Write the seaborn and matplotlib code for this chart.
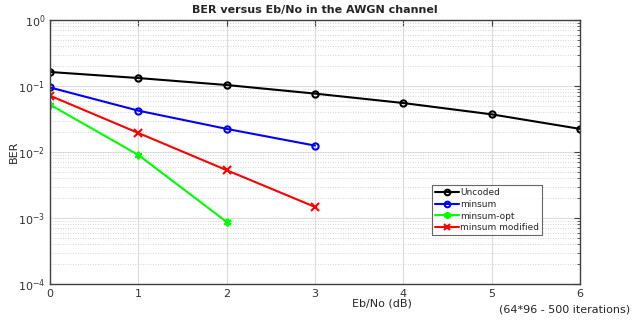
import matplotlib
matplotlib.use("Agg")
import matplotlib.pyplot as plt
import matplotlib.ticker as mticker
import seaborn as sns
import pandas as pd

# Eb/No (dB) and BER values
ebno_uncoded = [0, 1, 2, 3, 4, 5, 6]
ber_uncoded = [0.163, 0.132, 0.1035, 0.0767, 0.0552, 0.0372, 0.0224]

ebno_minsum = [0, 1, 2, 3]
ber_minsum = [0.095, 0.0423, 0.0224, 0.0125]

ebno_opt = [0, 1, 2]
ber_opt = [0.052, 0.009, 0.00087]

ebno_mod = [0, 1, 2, 3]
ber_mod = [0.0713, 0.0194, 0.0053, 0.00147]

series = [
    ("Uncoded", ebno_uncoded, ber_uncoded, "black", "o"),
    ("minsum", ebno_minsum, ber_minsum, "blue", "o"),
    ("minsum-opt", ebno_opt, ber_opt, "#00ff00", (6, 2, 0)),
    ("minsum modified", ebno_mod, ber_mod, "red", "x"),
]

sns.set_style("white")
plt.rcParams["font.family"] = ["DejaVu Sans"]
plt.rcParams["font.size"] = 8

fig = plt.figure(figsize=(6.4, 3.2), dpi=100)
ax = fig.add_axes([50 / 640, 36 / 320, 530 / 640, 264 / 320])

for name, x, y, color, marker in series:
    df = pd.DataFrame({"x": x, "y": y})
    filled = marker != "o"
    sns.lineplot(
        data=df, x="x", y="y", ax=ax, color=color, linewidth=1.5,
        marker=marker, markersize=4.5 if marker == "o" else 5.5, markeredgewidth=1.5,
        markerfacecolor=color if filled else "none", markeredgecolor=color,
        label=name,
    )

ax.set_yscale("log")
ax.set_xlim(0, 6)
ax.set_ylim(1e-4, 1)
ax.set_xticks(range(7))
ax.yaxis.set_major_locator(mticker.LogLocator(base=10, numticks=10))
ax.yaxis.set_minor_locator(mticker.LogLocator(base=10, subs=range(2, 10), numticks=10))
ax.yaxis.set_minor_formatter(mticker.NullFormatter())

ax.grid(True, which="major", color="#dcdcdc", linewidth=0.8, linestyle="-")
ax.grid(True, which="minor", axis="y", color="#c8c8c8", linewidth=0.6, linestyle=(0, (1, 2)))
ax.set_axisbelow(True)

for sp in ax.spines.values():
    sp.set_color("#404040")
    sp.set_linewidth(1.0)
ax.tick_params(which="both", direction="in", top=True, right=True, colors="#404040",
               labelcolor="#333333", labelsize=8)
ax.tick_params(which="major", length=4)
ax.tick_params(which="minor", length=2)

ax.set_title("BER versus Eb/No in the AWGN channel", fontsize=8, fontweight="bold", pad=5)
ax.set_ylabel("BER", fontsize=8, color="#262626", labelpad=-1)
ax.set_xlabel("")
fig.text(382 / 640, 1 - 303 / 320, "Eb/No (dB)", ha="center", va="center", fontsize=8, color="#262626")
fig.text(565 / 640, 1 - 310 / 320, "(64*96 - 500 iterations)", ha="center", va="center",
         fontsize=8, color="#262626")

leg = ax.legend(loc="upper left", bbox_to_anchor=((432 - 50) / 530, (284 - 185) / 264),
                borderaxespad=0, frameon=True, fontsize=6.5, handlelength=2.6,
                handletextpad=0.15, borderpad=0.35, labelspacing=0.3,
                fancybox=False, edgecolor="#404040", markerscale=0.9)
leg.get_frame().set_linewidth(0.8)

fig.savefig("out.png", dpi=100)
